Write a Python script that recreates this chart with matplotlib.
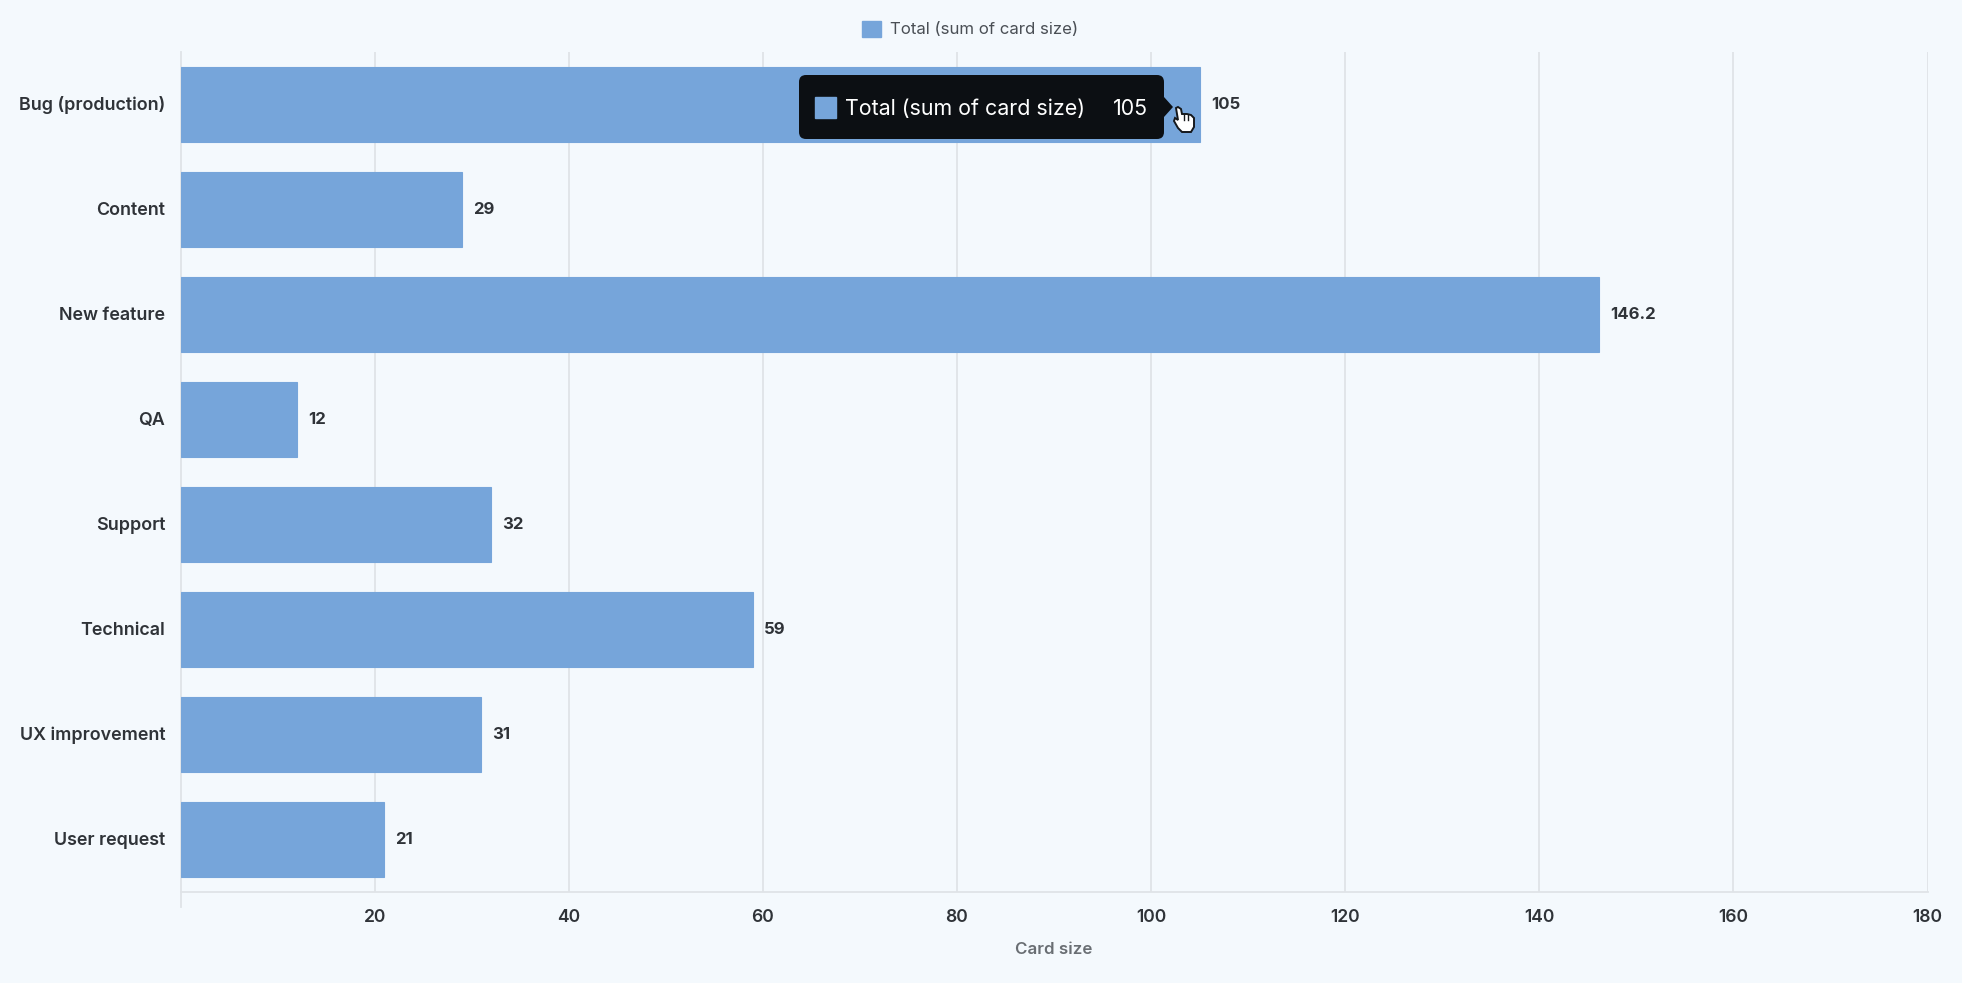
import numpy as np
import matplotlib
matplotlib.use('Agg')
import matplotlib.pyplot as plt
from matplotlib.patches import FancyBboxPatch, Polygon, Rectangle
from matplotlib.ticker import FixedLocator
from matplotlib.transforms import ScaledTranslation

plt.rcParams['font.family'] = ['Inter', 'DejaVu Sans']

categories = ['Bug (production)', 'Content', 'New feature', 'QA', 'Support',
              'Technical', 'UX improvement', 'User request']
values = [105, 29, 146.2, 12, 32, 59, 31, 21]
value_labels = ['105', '29', '146.2', '12', '32', '59', '31', '21']
x_ticks = [20, 40, 60, 80, 100, 120, 140, 160, 180]
series_name = 'Total (sum of card size)'
x_title = 'Card size'
hover_value = '105'

bg = '#f4f9fd'
bar_col = '#76a5da'
grid_col = '#dfe3e7'
text_col = '#2f3338'

W, H = 1962, 983
fig = plt.figure(figsize=(W / 100, H / 100), dpi=100, facecolor=bg)
ax = fig.add_axes([180.5 / W, 1 - 892 / H, (1927.5 - 180.5) / W, (892 - 52) / H], facecolor=bg)

y = np.arange(len(categories))
ax.barh(y, values, height=0.72, color=bar_col, edgecolor=bar_col, lw=0.8, zorder=3)
ax.set_xlim(0, 180)
ax.set_ylim(len(categories) - 0.5, -0.5)

ax.xaxis.set_major_locator(FixedLocator(x_ticks))
ax.grid(axis='x', color=grid_col, lw=1.3, zorder=1)
ax.set_yticks(y)
ax.set_yticklabels(categories, fontsize=12.9, fontweight=600, color=text_col, va='center_baseline')
ax.tick_params(axis='y', length=0, pad=11)
ax.tick_params(axis='x', length=0, pad=12.5, labelsize=12.6, labelcolor=text_col)
for lab in ax.get_xticklabels():
    lab.set_fontweight(600)
# nudge category labels up a little
for lab in ax.get_yticklabels():
    lab.set_transform(lab.get_transform() + ScaledTranslation(0, 0.012, fig.dpi_scale_trans))

for s in ['top', 'right']:
    ax.spines[s].set_visible(False)
ax.spines['left'].set_color(grid_col)
ax.spines['left'].set_linewidth(1.3)
ax.spines['left'].set_bounds(len(categories) - 0.5 + 0.14, -0.5)
ax.spines['bottom'].set_color(grid_col)
ax.spines['bottom'].set_linewidth(1.3)

for i, v in enumerate(values):
    ax.annotate(value_labels[i], (v, i), xytext=(8, -0.3), textcoords='offset points',
                va='center', ha='left', fontsize=12, fontweight='bold', color=text_col, zorder=5)

# overlay in pixel coordinates for legend, axis title and tooltip
ov = fig.add_axes([0, 0, 1, 1])
ov.set_xlim(0, W)
ov.set_ylim(H, 0)
ov.axis('off')
ov.patch.set_alpha(0)

ov.add_patch(Rectangle((862, 20.5), 19, 16.5, color=bar_col))
ov.text(890, 29, series_name, fontsize=12.1, color='#4a4f55', va='center', ha='left')
ov.text(1054, 950, x_title, fontsize=12.2, fontweight=600, color='#696e73', va='center', ha='center')

tip = '#0c0f13'
ov.add_patch(FancyBboxPatch((805, 81), 353, 52, boxstyle='round,pad=6,rounding_size=7', fc=tip, ec='none', zorder=6))
ov.add_patch(Polygon([(1164, 97), (1173, 107), (1164, 117)], fc=tip, ec='none', zorder=6))
ov.add_patch(Rectangle((815, 97), 21, 21, color=bar_col, zorder=7))
ov.text(845, 109, series_name, fontsize=15.4, color='white', va='center', ha='left', zorder=7)
ov.text(1148, 109, hover_value, fontsize=15.4, color='white', va='center', ha='right', zorder=7)

# hand cursor
hand = [(1176, 108), (1178, 107), (1181, 109), (1182, 114), (1187, 114), (1191, 115), (1194, 118),
        (1194, 127), (1191, 132), (1182, 132), (1178, 128), (1174, 121), (1175, 118), (1178, 120)]
ov.add_patch(Polygon(hand, fc='white', ec='#15181c', lw=1.4, zorder=8))
for xf in [1184, 1188]:
    ov.plot([xf, xf], [115, 120], color='#15181c', lw=1, zorder=9)

fig.savefig('out.png', dpi=100, facecolor=bg)
